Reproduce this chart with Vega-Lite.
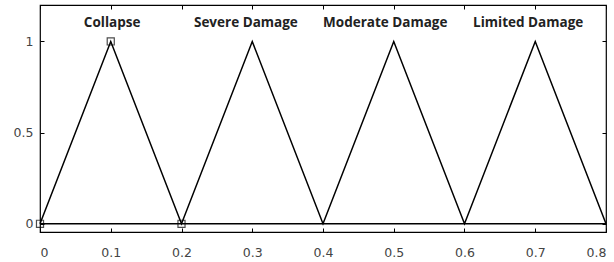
{
  "$schema": "https://vega.github.io/schema/vega-lite/v6.json",
  "width": 566,
  "height": 227,
  "autosize": {"type": "none"},
  "padding": {"left": 40, "top": 5, "right": 8, "bottom": 30},
  "background": "white",
  "config": {
    "view": {"stroke": "black", "strokeWidth": 1.2},
    "axis": {"grid": false, "domain": false, "labelFont": "DejaVu Sans", "labelFontSize": 12.5, "labelColor": "#444", "tickColor": "black", "tickSize": -4, "title": null}
  },
  "datasets": {
    "tri": [
      {"x": 0, "y": 0}, {"x": 0.1, "y": 1}, {"x": 0.2, "y": 0}, {"x": 0.3, "y": 1},
      {"x": 0.4, "y": 0}, {"x": 0.5, "y": 1}, {"x": 0.6, "y": 0}, {"x": 0.7, "y": 1}, {"x": 0.8, "y": 0}
    ],
    "base": [{"x": 0, "y": 0}, {"x": 0.8, "y": 0}],
    "pts": [{"x": 0, "y": 0}, {"x": 0.1, "y": 1}, {"x": 0.2, "y": 0}],
    "labels": [
      {"x": 0.102, "y": 1.104, "t": "Collapse"},
      {"x": 0.291, "y": 1.104, "t": "Severe Damage"},
      {"x": 0.488, "y": 1.104, "t": "Moderate Damage"},
      {"x": 0.69, "y": 1.104, "t": "Limited Damage"}
    ]
  },
  "resolve": {"axis": {"x": "independent", "y": "independent"}},
  "layer": [
    {
      "data": {"name": "base"},
      "mark": {"type": "line", "color": "black", "strokeWidth": 1.5},
      "encoding": {
        "x": {"field": "x", "type": "quantitative", "scale": {"domain": [0, 0.8], "nice": false},
              "axis": {"values": [0, 0.1, 0.2, 0.3, 0.4, 0.5, 0.6, 0.7, 0.8], "format": "~g", "labelPadding": 18}},
        "y": {"field": "y", "type": "quantitative", "scale": {"domain": [-0.045, 1.2], "nice": false, "zero": false},
              "axis": {"values": [0, 0.5, 1], "format": "~g", "labelPadding": 11}}
      }
    },
    {
      "data": {"name": "tri"},
      "mark": {"type": "line", "color": "black", "strokeWidth": 1.5},
      "encoding": {
        "x": {"field": "x", "type": "quantitative", "axis": {"orient": "top", "labels": false, "values": [0, 0.1, 0.2, 0.3, 0.4, 0.5, 0.6, 0.7, 0.8]}},
        "y": {"field": "y", "type": "quantitative", "axis": {"orient": "right", "labels": false, "values": [0, 0.5, 1]}}
      }
    },
    {
      "data": {"name": "pts"},
      "mark": {"type": "point", "shape": "square", "filled": false, "color": "black", "size": 50, "strokeWidth": 1.2},
      "encoding": {
        "x": {"field": "x", "type": "quantitative", "axis": null},
        "y": {"field": "y", "type": "quantitative", "axis": null}
      }
    },
    {
      "data": {"name": "labels"},
      "mark": {"type": "text", "font": "Open Sans", "fontWeight": "bold", "fontSize": 13.5, "color": "#222"},
      "encoding": {
        "x": {"field": "x", "type": "quantitative", "axis": null},
        "y": {"field": "y", "type": "quantitative", "axis": null},
        "text": {"field": "t"}
      }
    }
  ]
}
